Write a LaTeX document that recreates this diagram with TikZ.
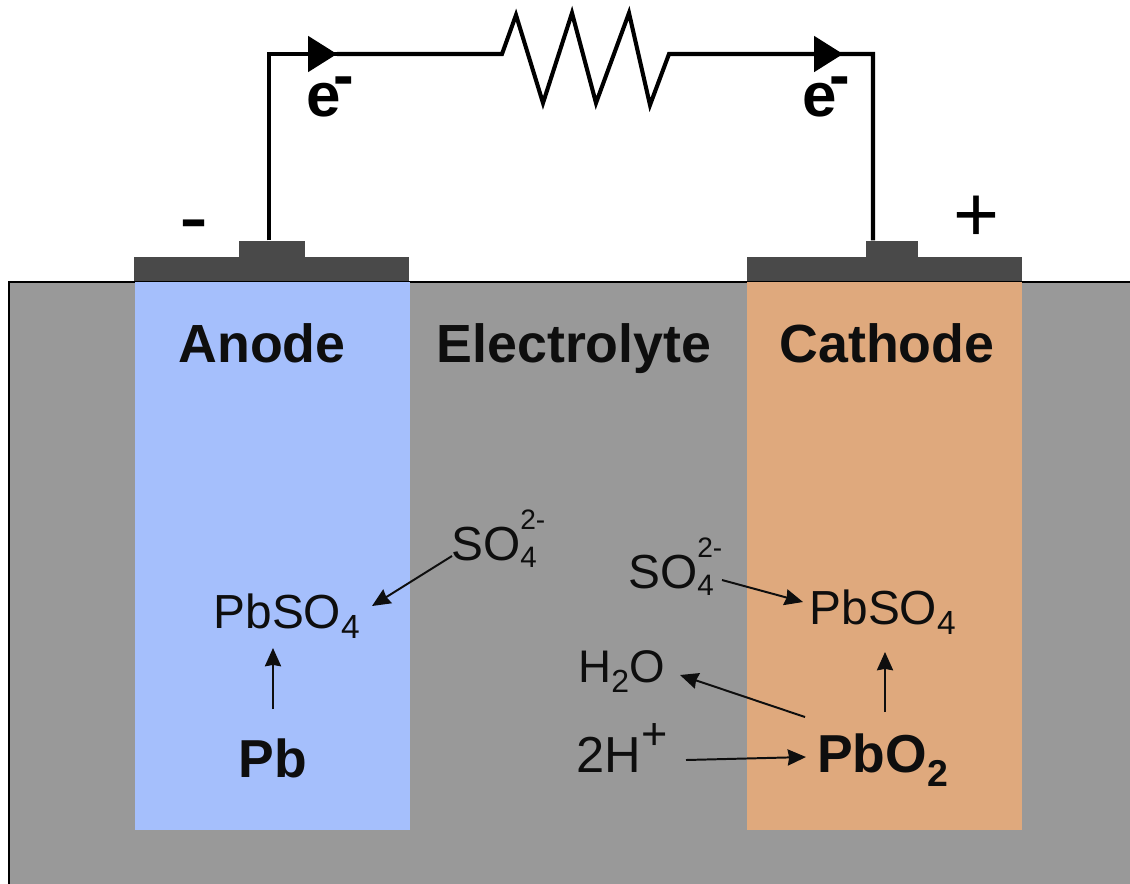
\documentclass[tikz,border=0pt]{standalone}
\usepackage{fontspec}
\setmainfont{Liberation Sans}
\usepackage{xcolor}
\usetikzlibrary{arrows.meta}
\definecolor{cellGrey}{HTML}{999999}
\definecolor{anodeBlue}{HTML}{A5BFFC}
\definecolor{cathodeTan}{HTML}{DFA97D}
\definecolor{plateDark}{HTML}{494949}
\definecolor{inkDark}{HTML}{0E0E0E}
\newcommand{\sulfate}{SO\rlap{\raisebox{22pt}{\fontsize{20}{20}\selectfont 2-}}\raisebox{-5pt}{\fontsize{21}{21}\selectfont 4}}
\newcommand{\electronbar}{\kern-5pt\raisebox{14pt}{\fontsize{44}{44}\selectfont -}}
\tikzset{
  title label/.style={inner sep=0pt,anchor=base,font=\fontsize{38.2}{38}\selectfont\bfseries,text=inkDark},
  species/.style={inner sep=0pt,anchor=base,font=\fontsize{34}{34}\selectfont,text=inkDark},
  solid species/.style={species,font=\fontsize{38}{38}\selectfont\bfseries},
  electron/.style={inner sep=0pt,anchor=base west,font=\fontsize{44}{44}\selectfont\bfseries},
  terminal/.style={fill=plateDark,inner sep=0pt,minimum width=1.65cm,minimum height=.4cm,anchor=south},
  wire/.style={line width=2.9pt,line join=miter,draw=black},
  wire arrow/.style={wire,-{Triangle[length=20.5pt,width=25pt,sep=0pt]}},
  reaction arrow/.style={-{Stealth[length=13pt,width=11.5pt,inset=1pt]},line width=1.4pt,draw=inkDark}
}
\begin{document}
\begin{tikzpicture}[x=0.025cm,y=-0.025cm]
\useasboundingbox (0,0) rectangle (1130,883);
\fill[white] (0,0) rectangle (1130,883);
\fill[cellGrey] (8,282) rectangle (1140,893);
\draw[line width=2pt] (1140,885) -- (9,885) -- (9,282) -- (1140,282);
\fill[anodeBlue] (135,282) rectangle (410,830);
\fill[cathodeTan] (747,282) rectangle (1022,830);
\fill[plateDark] (134,257) rectangle (409,281);
\fill[plateDark] (747,257) rectangle (1022,281);
\node[terminal] (anodetab) at (272,257) {};
\node[terminal,minimum width=1.3cm] (cathodetab) at (892,257) {};
\coordinate (cornerL) at (269,54);
\coordinate (cornerR) at (873,54);
\coordinate (tipL) at (337,54);
\coordinate (tipR) at (843,54);
\coordinate (resL) at (502,54);
\coordinate (resR) at (669,54);
\draw[wire] (cornerL |- anodetab.north) -- (cornerL) -- (tipL);
\draw[wire arrow] (cornerL) -- (tipL);
\draw[wire] (tipL) -- (resL) -- (516,15) -- (543,103) -- (572,13) -- (596,103) -- (629,13) -- (650,105) -- (resR) -- (cornerR) -- (cornerR |- cathodetab.north);
\draw[wire arrow] (resR) -- (tipR);
\node[electron] (electronL) at (306,116) {e\electronbar};
\node[electron] (electronR) at (802,116) {e\electronbar};
\node[inner sep=0pt,font=\fontsize{62}{62}\selectfont] (minus) at (194,233) {-};
\node[inner sep=0pt,font=\fontsize{56}{56}\selectfont] (plus) at (976,219) {+};
\node[title label] (anode) at (262,362) {Anode};
\node[title label] (electrolyte) at (574,362) {Electrolyte};
\node[title label] (cathode) at (887,362) {Cathode};
\node[species] (sulfateL) at (494,560) {\sulfate};
\node[species] (leadsulfateL) at (287,628) {PbSO\textsubscript{4}};
\node[solid species] (lead) at (273,777) {Pb};
\node[species] (sulfateR) at (671,588) {\sulfate};
\node[species] (leadsulfateR) at (883,624) {PbSO\textsubscript{4}};
\node[species,font=\fontsize{32.5}{32}\selectfont] (water) at (622,682) {H\textsubscript{2}O};
\node[species,font=\fontsize{36}{36}\selectfont] (protons) at (622,772) {2H\raisebox{16pt}{\fontsize{32}{32}\selectfont +}};
\node[solid species] (leaddioxide) at (883,772) {PbO\textsubscript{2}};
\draw[reaction arrow] ([shift={(-42,-4)}]sulfateL.base) -- ([shift={(85,-22)}]leadsulfateL.base);
\draw[reaction arrow] ([shift={(0,-68)}]lead.base) -- ([shift={(-14,20)}]leadsulfateL.base);
\draw[reaction arrow] ([shift={(51,-8)}]sulfateR.base) -- ([shift={(-80,-22)}]leadsulfateR.base);
\draw[reaction arrow] ([shift={(2,-60)}]leaddioxide.base) -- ([shift={(2,28)}]leadsulfateR.base);
\draw[reaction arrow] ([shift={(-78,-55)}]leaddioxide.base) -- ([shift={(58,-7)}]water.base);
\draw[reaction arrow] ([shift={(64,-12)}]protons.base) -- ([shift={(-77,-15)}]leaddioxide.base);
\end{tikzpicture}
\end{document}
